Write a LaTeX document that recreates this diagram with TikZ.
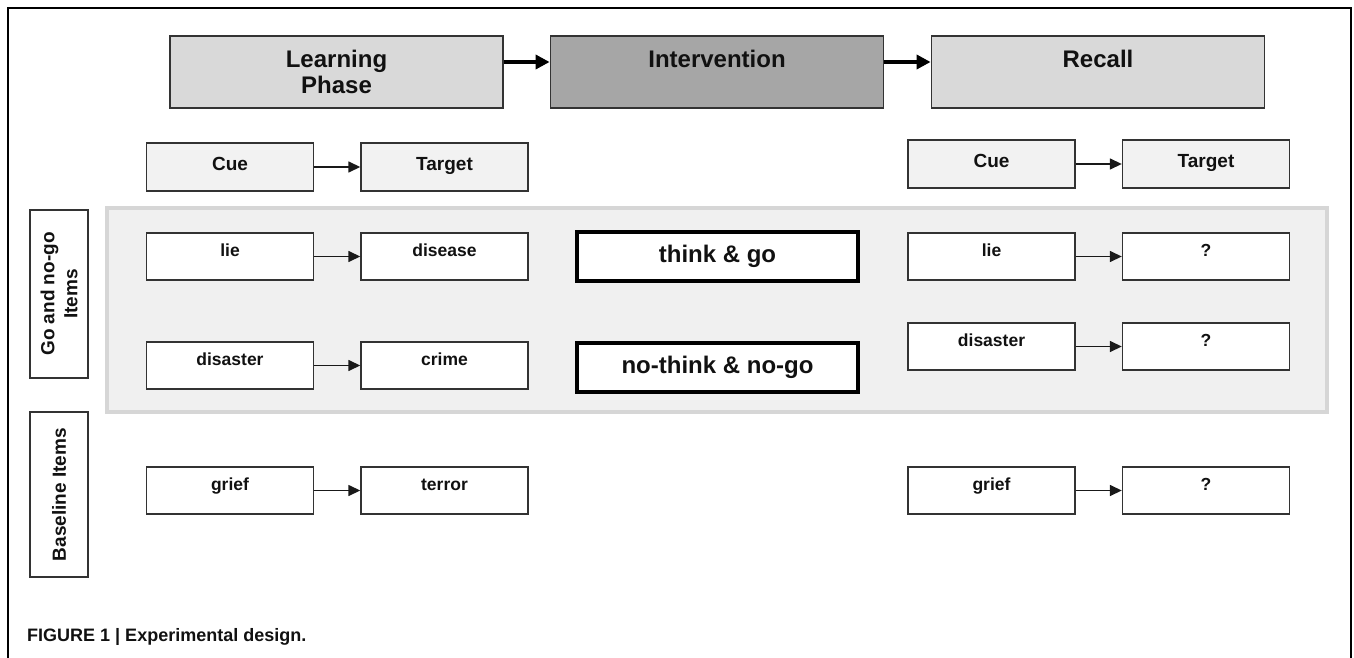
\documentclass[tikz,border=0pt]{standalone}
\usepackage{fontspec}
\setmainfont{Liberation Sans}
\usetikzlibrary{arrows.meta}
\definecolor{phaselight}{HTML}{D9D9D9}
\definecolor{phasedark}{HTML}{A6A6A6}
\definecolor{headfill}{HTML}{F2F2F2}
\definecolor{panelfill}{HTML}{F0F0F0}
\definecolor{panelline}{HTML}{D6D6D6}
\definecolor{boxline}{HTML}{333333}
\definecolor{inktext}{HTML}{111111}
\begin{document}
\begin{tikzpicture}[x=1pt,y=-1pt,
  every node/.style={text=inktext, font=\bfseries},
  phasebox/.style={draw=boxline, line width=1.8pt, minimum width=333pt, minimum height=72pt,
    inner sep=0pt, align=center, font=\fontsize{24}{26}\selectfont\bfseries},
  headbox/.style={draw=boxline, fill=headfill, line width=1.4pt, minimum width=167pt, minimum height=48pt,
    inner sep=0pt, text height=14pt, text depth=6.4pt, font=\fontsize{19}{22}\selectfont\bfseries},
  itembox/.style={draw=boxline, fill=white, line width=1.4pt, minimum width=167pt, minimum height=47pt,
    inner sep=0pt, text height=13pt, text depth=13pt, font=\fontsize{17.5}{20}\selectfont\bfseries},
  condbox/.style={draw=black, fill=white, line width=3.6pt, minimum width=281pt, minimum height=49pt,
    inner sep=0pt, font=\fontsize{24}{28}\selectfont\bfseries},
  sidebox/.style={draw=boxline, fill=white, line width=1.4pt, rotate=90, inner sep=0pt,
    align=center, font=\fontsize{19}{23}\selectfont\bfseries},
  smallarrow/.style={draw=black!90, line width=1.5pt, -{Triangle[length=12pt,width=11pt]}},
  bigarrow/.style={draw=black, line width=4pt, -{Triangle[length=14pt,width=14pt]}}
]
\useasboundingbox (0,0) rectangle (1354,658);
% outer frame (open at the bottom)
\draw[line width=1.5pt, black] (8,658) -- (8,8) -- (1351,8) -- (1351,658);

% phase boxes
\node[phasebox, fill=phaselight] (learn) at (336.5,72) {\raisebox{-3pt}{Learning}\\\raisebox{-3pt}{Phase}};
\node[phasebox, fill=phasedark] (interv) at (717,72) {Intervention\\\phantom{Phase}};
\node[phasebox, fill=phaselight] (recall) at (1098,72) {Recall\\\phantom{Phase}};
\draw[bigarrow] ([yshift=10pt]learn.east) -- ([yshift=10pt]interv.west);
\draw[bigarrow] ([yshift=10pt]interv.east) -- ([yshift=10pt]recall.west);

% heading boxes
\node[headbox] (lcue) at (230,167) {Cue};
\node[headbox] (ltarget) at (444.5,167) {Target};
\node[headbox] (rcue) at (991.5,164) {Cue};
\node[headbox] (rtarget) at (1206,164) {Target};
\draw[smallarrow] (lcue) -- (ltarget);
\draw[smallarrow] (rcue) -- (rtarget);

% grey panel
\node[draw=panelline, fill=panelfill, line width=4pt, minimum width=1220pt, minimum height=204pt,
  inner sep=0pt] (panel) at (717,310) {};

% side labels
\node[sidebox, minimum width=168pt, minimum height=58pt] (gonogo) at (59,294) {Go and no-go\\Items};
\node[sidebox, minimum width=165pt, minimum height=58pt] (baseline) at (59,494.5) {Baseline Items};

% left items
\node[itembox] (lie) at (230,256.5) {lie};
\node[itembox] (disease) at (444.5,256.5) {disease};
\node[itembox] (disaster) at (230,365.5) {disaster};
\node[itembox] (crime) at (444.5,365.5) {crime};
\node[itembox] (grief) at (230,490.5) {grief};
\node[itembox] (terror) at (444.5,490.5) {terror};
\draw[smallarrow] (lie) -- (disease);
\draw[smallarrow] (disaster) -- (crime);
\draw[smallarrow] (grief) -- (terror);

% conditions
\node[condbox] (thinkgo) at (717.5,256.5) {think \& go};
\node[condbox] (nothink) at (717.5,367.5) {no-think \& no-go};

% right items
\node[itembox] (rlie) at (991.5,256.5) {lie};
\node[itembox] (rq1) at (1206,256.5) {?};
\node[itembox] (rdisaster) at (991.5,346.5) {disaster};
\node[itembox] (rq2) at (1206,346.5) {?};
\node[itembox] (rgrief) at (991.5,490.5) {grief};
\node[itembox] (rq3) at (1206,490.5) {?};
\draw[smallarrow] (rlie) -- (rq1);
\draw[smallarrow] (rdisaster) -- (rq2);
\draw[smallarrow] (rgrief) -- (rq3);

% caption
\node[anchor=west, inner sep=0pt, font=\fontsize{18}{22}\selectfont\bfseries] (caption) at (27,637)
  {FIGURE 1 | Experimental design.};
\end{tikzpicture}
\end{document}
